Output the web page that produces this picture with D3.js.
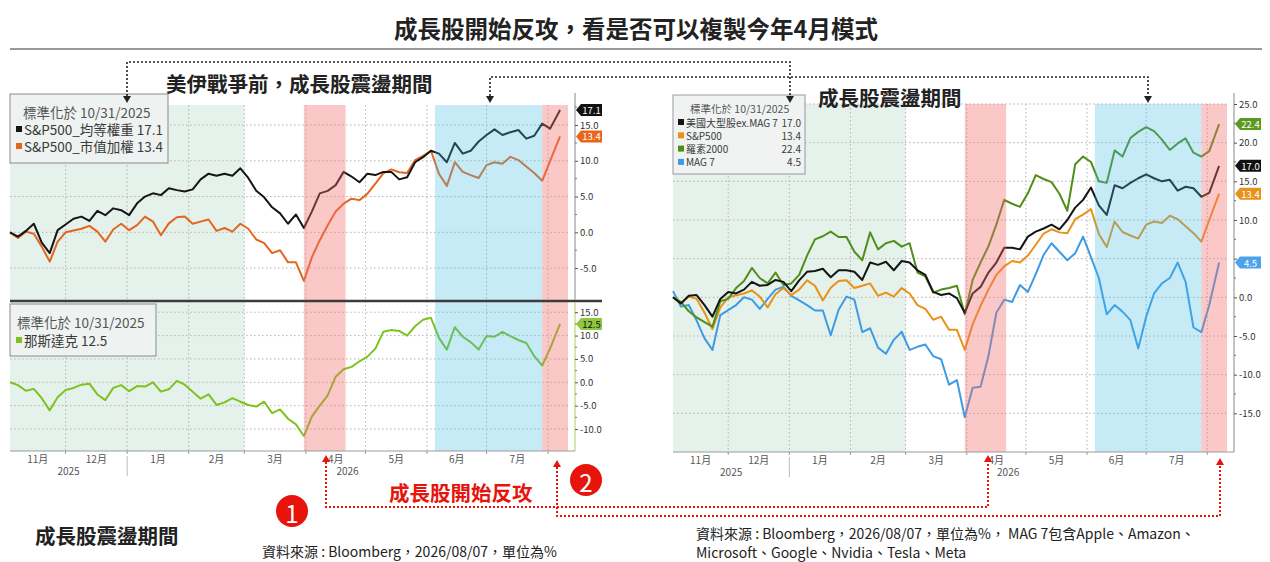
<!DOCTYPE html>
<html lang="zh-Hant">
<head>
<meta charset="UTF-8">
<title>成長股開始反攻</title>
<script src="https://d3js.org/d3.v7.min.js"></script>
<style>
    body { margin: 0; background: #fff; }
    svg text { font-family: "Noto Sans CJK TC", "Noto Sans", sans-serif; }
</style>
</head>
<body>
<svg id="main" width="1270" height="562" viewBox="0 0 1270 562"></svg>
<script>
    // x categories (normalised to 10/31/2025)
    let dates = ["2025-11-03","2025-11-07","2025-11-11","2025-11-15","2025-11-19","2025-11-23","2025-11-27",
        "2025-12-01","2025-12-05","2025-12-09","2025-12-13","2025-12-17","2025-12-21","2025-12-25","2025-12-29",
        "2026-01-02","2026-01-06","2026-01-10","2026-01-14","2026-01-18","2026-01-22","2026-01-26","2026-01-30",
        "2026-02-03","2026-02-07","2026-02-11","2026-02-15","2026-02-19","2026-02-23","2026-02-27",
        "2026-03-03","2026-03-07","2026-03-11","2026-03-15","2026-03-19","2026-03-23","2026-03-27","2026-03-31",
        "2026-04-04","2026-04-08","2026-04-12","2026-04-16","2026-04-20","2026-04-24","2026-04-28",
        "2026-05-02","2026-05-06","2026-05-10","2026-05-14","2026-05-18","2026-05-22","2026-05-26","2026-05-30",
        "2026-06-03","2026-06-07","2026-06-11","2026-06-15","2026-06-19","2026-06-23","2026-06-27",
        "2026-07-01","2026-07-05","2026-07-09","2026-07-13","2026-07-17","2026-07-21","2026-07-25","2026-07-29",
        "2026-08-02","2026-08-07"];

    // series, % change
    let spEqualWeight = [0, -0.6, 0.2, 1.2, -1.45, -2.9, 0.3, 1.1, 1.9, 2.2, 1.6, 3.0, 2.4, 3.35, 3.1, 2.4, 4.05, 5.0, 5.45, 5.2,
        6.15, 5.9, 5.7, 6.0, 7.4, 8.2, 7.9, 8.2, 7.9, 8.95, 7.6, 5.8, 4.9, 3.5, 2.65, 1.2, 2.5, 0.6, 2.9, 5.45,
        5.8, 6.6, 8.45, 7.8, 7.0, 8.2, 8.0, 8.45, 8.45, 7.4, 7.7, 9.8, 10.5, 11.4, 11.0, 9.8, 12.5, 11.0, 11.4, 12.7,
        13.6, 14.4, 13.6, 14.0, 14.3, 13.1, 13.5, 15.2, 14.5, 17.1];
    let sp500 = [0, -0.8, 0.1, -0.2, -2.0, -4.1, -1.3, 0.0, 0.25, 0.5, 0.9, 0.1, -1.3, 0.4, 1.2, 0.3, 1.0, 2.2, 1.5, -0.4,
        1.25, 2.1, 2.2, 1.2, 1.5, 1.8, 0.2, 0.6, 0.1, 1.2, 0.5, -1.0, -1.5, -2.9, -2.5, -4.2, -4.2, -6.8, -3.5, -1.1,
        1.0, 2.9, 4.0, 4.7, 4.5, 5.4, 6.8, 8.25, 8.8, 8.4, 8.3, 10.1, 10.7, 11.4, 8.2, 6.5, 9.8, 8.45, 8.0, 7.6,
        9.4, 9.8, 9.6, 10.55, 10.1, 9.2, 8.3, 7.2, 10.0, 13.4];
    let nasdaq = [0, -0.6, -1.8, -1.4, -3.4, -6.0, -3.2, -1.65, -1.2, -0.5, -0.3, -2.6, -3.8, -1.2, -0.6, -1.9, -0.8, -0.9, 0.0, -2.0,
        -1.5, 0.3, -0.5, -2.0, -3.5, -2.6, -4.85, -4.3, -3.4, -4.15, -4.85, -5.2, -4.15, -6.6, -5.8, -7.8, -9.0, -11.5, -7.35, -5.0,
        -2.8, 1.2, 2.8, 3.3, 4.5, 5.5, 7.2, 10.8, 11.2, 11.0, 10.0, 12.0, 13.4, 13.8, 9.5, 7.0, 11.8, 9.75, 8.6, 7.0,
        9.9, 9.75, 10.8, 9.9, 9.05, 8.4, 5.6, 3.6, 7.25, 12.5];
    let largeExMag7 = [0, -0.8, 0.2, 0.3, -1.0, -2.5, -0.2, 0.7, 0.5, 1.0, 2.0, 1.5, 1.6, 2.25, 2.0, 0.8, 2.2, 3.3, 3.4, 3.7,
        2.6, 3.5, 3.5, 3.3, 2.25, 4.5, 4.2, 4.6, 3.5, 4.7, 4.5, 3.5, 2.9, 0.7, 0.3, 0.5, -0.1, -2.0, 0.5, 1.35,
        3.2, 4.5, 6.4, 6.4, 6.2, 7.85, 8.5, 8.9, 9.4, 8.8, 10.0, 11.6, 12.6, 14.2, 11.9, 10.65, 14.5, 14.1, 14.8, 15.4,
        15.9, 15.4, 15.0, 15.2, 13.8, 14.3, 14.1, 13.0, 13.5, 17.0];
    let russell2000 = [0, -0.6, -1.8, -2.6, -3.2, -3.8, -0.5, -0.2, 1.2, 2.1, 3.8, 2.5, 1.8, 3.2, 1.6, 1.8, 2.9, 5.4, 7.5, 7.9,
        8.5, 7.8, 7.8, 5.9, 4.8, 8.4, 6.2, 7.0, 7.3, 6.55, 7.0, 3.2, 2.7, 0.6, 1.0, 1.2, 1.5, -2.2, 2.25, 4.5,
        6.6, 9.4, 12.6, 12.1, 11.7, 13.45, 15.8, 15.3, 14.9, 13.4, 11.2, 17.2, 18.2, 17.5, 15.0, 14.8, 19.0, 18.2, 20.6, 21.4,
        22.0, 21.5, 20.4, 19.05, 19.9, 20.55, 18.7, 18.2, 18.9, 22.4];
    let mag7 = [0.8, -1.2, -1.0, -3.0, -5.3, -6.8, -2.3, -1.65, -1.0, 0.0, -0.3, -1.5, -0.2, 1.0, 1.35, 0.2, -0.4, -1.0, -1.7, -1.7,
        -4.9, -1.6, 0.1, -0.3, -4.5, -4.0, -6.5, -7.3, -5.5, -4.45, -6.8, -6.4, -6.1, -7.6, -8.0, -11.3, -10.7, -15.5, -11.7, -11.55,
        -7.6, -2.0, -0.3, -0.6, 1.6, 0.7, 3.0, 5.5, 7.0, 5.9, 4.8, 5.7, 7.85, 5.2, 2.5, -2.2, -1.0, -1.85, -2.95, -6.6,
        -2.5, 0.5, 1.8, 2.5, 4.5, 2.0, -3.9, -4.5, -1.0, 4.5];

    // shaded periods
    let mintPeriod = ["2025-11-03", "2026-03-01"];
    let pinkPeriods = [["2026-03-31", "2026-04-21"], ["2026-07-29", "2026-08-11"]];
    let bluePeriod = ["2026-06-05", "2026-07-29"];

    // tick labels
    let monthLabels = ["11月", "12月", "1月", "2月", "3月", "4月", "5月", "6月", "7月"];
    let yearLabels = ["2025", "2026"];
    let topTicks = [-5, 0, 5, 10, 15];
    let bottomTicks = [-10, -5, 0, 5, 10, 15];
    let rightTicks = [-15, -10, -5, 0, 5, 10, 15, 20, 25];

    let svg = d3.select('svg#main');
    let parse = d3.timeParse('%Y-%m-%d');
    let dts = dates.map(parse);
    let dom = [parse('2025-11-03'), parse('2026-08-11')];
    let fmt = d3.format('.1f');
    let last = function (a) { return a[a.length - 1]; };

    let xL = d3.scaleTime().domain(dom).range([10, 568]);
    let yTop = d3.scaleLinear().domain([-9.6, 17.8]).range([301, 105]);
    let yBot = d3.scaleLinear().domain([-14.7, 17.4]).range([451, 301]);
    let xR = d3.scaleTime().domain(dom).range([673, 1227]);
    let yR = d3.scaleLinear().domain([-20, 25]).range([452, 104]);

    function drawBands(g, x, y0, y1, periods, color) {
        g.selectAll(null).data(periods).enter().append('rect')
            .attr('x', function (d) { return x(parse(d[0])); })
            .attr('width', function (d) { return x(parse(d[1])) - x(parse(d[0])); })
            .attr('y', y0).attr('height', y1 - y0)
            .style('fill', color);
    }

    function drawHGrid(g, x, y, ticks) {
        g.selectAll(null).data(ticks).enter().append('line')
            .attr('x1', x.range()[0]).attr('x2', x.range()[1])
            .attr('y1', function (d) { return y(d); }).attr('y2', function (d) { return y(d); })
            .style('stroke', '#b3b3b3').style('stroke-dasharray', '1.5,2.5');
    }

    function drawVGrid(g, x, y0, y1) {
        let months = d3.timeMonth.range(dom[0], dom[1]);
        g.selectAll(null).data(months).enter().append('line')
            .attr('x1', function (d) { return x(d); }).attr('x2', function (d) { return x(d); })
            .attr('y1', y0).attr('y2', y1)
            .style('stroke', '#b3b3b3').style('stroke-dasharray', '1.5,2.5');
    }

    function drawLine(g, x, y, values, color) {
        let line = d3.line()
            .x(function (d, i) { return x(dts[i]); })
            .y(function (d) { return y(d); });
        g.append('path').datum(values).attr('d', line)
            .style('fill', 'none').style('stroke', color)
            .style('stroke-width', '2px').style('stroke-linejoin', 'round');
    }

    function drawXAxis(g, x, yAx, xEnd) {
        g.append('line').attr('x1', x.range()[0]).attr('x2', xEnd).attr('y1', yAx).attr('y2', yAx)
            .style('stroke', '#9a9a9a');
        let months = d3.timeMonth.range(dom[0], dom[1]);
        g.selectAll(null).data(months).enter().append('line')
            .attr('x1', function (d) { return x(d); }).attr('x2', function (d) { return x(d); })
            .attr('y1', yAx).attr('y2', yAx + 3).style('stroke', '#999');
        let starts = [dom[0]].concat(months);
        monthLabels.forEach(function (m, i) {
            g.append('text').attr('x', (x(starts[i]) + x(starts[i + 1])) / 2).attr('y', yAx + 12)
                .attr('text-anchor', 'middle').style('font-size', '10px').style('fill', '#555').text(m);
        });
        let jan = parse('2026-01-01');
        let yearX = [(x(dom[0]) + x(jan)) / 2, (x(jan) + x(dom[1])) / 2];
        yearLabels.forEach(function (t, i) {
            g.append('text').attr('x', yearX[i]).attr('y', yAx + 24)
                .attr('text-anchor', 'middle').style('font-size', '10px').style('fill', '#555').text(t);
        });
        g.append('line').attr('x1', x(jan)).attr('x2', x(jan)).attr('y1', yAx + 5).attr('y2', yAx + 25)
            .style('stroke', '#bbb');
    }

    // tick labels hidden where a value tag sits on them
    function drawYAxis(g, y, xPos, ticks, tagYs) {
        let shown = ticks.filter(function (t) {
            return tagYs.every(function (ty) { return Math.abs(y(t) - ty) > 8; });
        });
        let ax = g.append('g').attr('transform', 'translate(' + xPos + ',0)')
            .call(d3.axisRight(y).tickValues(ticks).tickSize(3).tickPadding(2)
                .tickFormat(function (d) { return shown.indexOf(d) >= 0 ? d.toFixed(1) : ''; }));
        ax.select('.domain').remove();
        ax.selectAll('text').style('font-size', '9.5px').style('fill', '#333');
        ax.selectAll('line').style('stroke', '#555');
        // minor ticks
        let minor = ticks.map(function (d) { return d + 2.5; }).filter(function (d) {
            return d > y.domain()[0] && d < y.domain()[1];
        });
        g.selectAll(null).data(minor).enter().append('line')
            .attr('x1', xPos).attr('x2', xPos + 2)
            .attr('y1', function (d) { return y(d); }).attr('y2', function (d) { return y(d); })
            .style('stroke', '#777');
    }

    function tag(g, x, y, txt, fill, color) {
        let w = 26, h = 12;
        g.append('path')
            .attr('d', 'M' + x + ',' + y + ' L' + (x + 5) + ',' + (y - h / 2) + ' L' + (x + w) + ',' + (y - h / 2) +
                ' L' + (x + w) + ',' + (y + h / 2) + ' L' + (x + 5) + ',' + (y + h / 2) + ' Z')
            .style('fill', fill);
        g.append('text').attr('x', x + 15.5).attr('y', y).attr('text-anchor', 'middle')
            .attr('dominant-baseline', 'central').style('font-size', '9.5px').style('fill', color).text(txt);
    }

    function legendRow(g, x, y, color, label, size) {
        g.append('rect').attr('x', x).attr('y', y - 3).attr('width', 6).attr('height', 6).style('fill', color);
        g.append('text').attr('x', x + 8).attr('y', y).attr('dominant-baseline', 'central')
            .style('font-size', size).style('fill', '#3a3a3a').text(label);
    }

    // title
    svg.append('text').attr('x', 636).attr('y', 28).attr('text-anchor', 'middle').attr('dominant-baseline', 'central')
        .style('font-size', '23.5px').style('font-weight', 'bold').style('fill', '#222')
        .text('成長股開始反攻，看是否可以複製今年4月模式');
    svg.append('line').attr('x1', 10).attr('x2', 1262).attr('y1', 49).attr('y2', 49).style('stroke', '#333');

    // ---- left chart ----
    let left = svg.append('g');
    drawBands(left, xL, 105, 451, [mintPeriod], '#e5f1eb');
    drawHGrid(left, xL, yTop, topTicks);
    drawHGrid(left, xL, yBot, bottomTicks);
    drawVGrid(left, xL, 105, 451);
    drawLine(left, xL, yTop, sp500, '#e4661e');
    drawLine(left, xL, yTop, spEqualWeight, '#151515');
    drawLine(left, xL, yBot, nasdaq, '#7dc31f');
    drawBands(left, xL, 105, 451, pinkPeriods, 'rgba(245,110,110,0.38)');
    drawBands(left, xL, 105, 451, [bluePeriod], 'rgba(70,185,230,0.3)');
    left.append('line').attr('x1', 10).attr('x2', 602).attr('y1', 301).attr('y2', 301)
        .style('stroke', '#3c3c3c').style('stroke-width', 2.5);
    drawXAxis(left, xL, 451, 575);
    left.append('line').attr('x1', 575).attr('x2', 575).attr('y1', 93).attr('y2', 300).style('stroke', '#888');
    left.append('line').attr('x1', 575).attr('x2', 575).attr('y1', 302).attr('y2', 451).style('stroke', '#a9d05c');
    let leftTopTags = [yTop(last(spEqualWeight)), yTop(last(sp500))];
    let leftBotTags = [yBot(last(nasdaq))];
    drawYAxis(left, yTop, 575, topTicks, leftTopTags);
    drawYAxis(left, yBot, 575, bottomTicks, leftBotTags);
    tag(left, 576, leftTopTags[0], fmt(last(spEqualWeight)), '#111', '#fff');
    tag(left, 576, leftTopTags[1], fmt(last(sp500)), '#e8661c', '#fff');
    tag(left, 576, leftBotTags[0], fmt(last(nasdaq)), '#8dc63f', '#111');

    left.append('rect').attr('x', 10).attr('y', 94).attr('width', 158).attr('height', 69)
        .style('fill', '#eef2f0').style('stroke', '#8c8c8c');
    left.append('text').attr('x', 23).attr('y', 112).attr('dominant-baseline', 'central')
        .style('font-size', '13.5px').style('fill', '#555').text('標準化於 10/31/2025');
    legendRow(left, 16, 129, '#151515', 'S&P500_均等權重 ' + fmt(last(spEqualWeight)), '13.5px');
    legendRow(left, 16, 146, '#e4661e', 'S&P500_市值加權 ' + fmt(last(sp500)), '13.5px');

    left.append('rect').attr('x', 10).attr('y', 304).attr('width', 146).attr('height', 52)
        .style('fill', '#eef2f0').style('stroke', '#8c8c8c');
    left.append('text').attr('x', 17).attr('y', 322).attr('dominant-baseline', 'central')
        .style('font-size', '13.5px').style('fill', '#555').text('標準化於 10/31/2025');
    legendRow(left, 16, 340, '#7dc31f', '那斯達克 ' + fmt(last(nasdaq)), '13.5px');

    // ---- right chart ----
    let right = svg.append('g');
    drawBands(right, xR, 104, 452, [mintPeriod], '#e5f1eb');
    drawHGrid(right, xR, yR, rightTicks);
    drawVGrid(right, xR, 104, 452);
    drawLine(right, xR, yR, mag7, '#3d9be6');
    drawLine(right, xR, yR, sp500, '#e89219');
    drawLine(right, xR, yR, russell2000, '#4f8f18');
    drawLine(right, xR, yR, largeExMag7, '#151515');
    drawBands(right, xR, 104, 452, pinkPeriods, 'rgba(245,110,110,0.38)');
    drawBands(right, xR, 104, 452, [bluePeriod], 'rgba(70,185,230,0.3)');
    drawXAxis(right, xR, 452, 1234);
    right.append('line').attr('x1', 1234).attr('x2', 1234).attr('y1', 93).attr('y2', 452).style('stroke', '#888');
    let rightTags = [yR(last(russell2000)), yR(last(largeExMag7)), yR(last(sp500)), yR(last(mag7))];
    drawYAxis(right, yR, 1234, rightTicks, rightTags);
    tag(right, 1235, rightTags[0], fmt(last(russell2000)), '#5b9a1e', '#fff');
    tag(right, 1235, rightTags[1], fmt(last(largeExMag7)), '#111', '#fff');
    tag(right, 1235, rightTags[2], fmt(last(sp500)), '#e8921a', '#fff');
    tag(right, 1235, rightTags[3], fmt(last(mag7)), '#4ba3ea', '#fff');

    right.append('rect').attr('x', 673).attr('y', 95).attr('width', 132).attr('height', 79)
        .style('fill', '#f0f3f2').style('stroke', '#999');
    right.append('text').attr('x', 690).attr('y', 108).attr('dominant-baseline', 'central')
        .style('font-size', '10.5px').style('fill', '#555').text('標準化於 10/31/2025');
    let rightLegend = [['美國大型股ex.MAG 7', largeExMag7, '#151515'], ['S&P500', sp500, '#e89219'],
        ['羅素2000', russell2000, '#4f8f18'], ['MAG 7', mag7, '#3d9be6']];
    rightLegend.forEach(function (d, i) {
        let yy = 122 + i * 13.3;
        legendRow(right, 678, yy, d[2], d[0], '10px');
        right.append('text').attr('x', 801).attr('y', yy).attr('text-anchor', 'end').attr('dominant-baseline', 'central')
            .style('font-size', '10px').style('fill', '#3a3a3a').text(fmt(last(d[1])));
    });

    // ---- annotations ----
    let ann = svg.append('g');
    function arrowDown(x, y, color) {
        ann.append('path').attr('d', 'M' + (x - 4) + ',' + (y - 7) + ' L' + (x + 4) + ',' + (y - 7) + ' L' + x + ',' + y + ' Z')
            .style('fill', color);
    }
    function arrowUp(x, y, color) {
        ann.append('path').attr('d', 'M' + (x - 4) + ',' + (y + 7) + ' L' + (x + 4) + ',' + (y + 7) + ' L' + x + ',' + y + ' Z')
            .style('fill', color);
    }
    function dotted(d, color, w) {
        ann.append('path').attr('d', d).style('fill', 'none').style('stroke', color)
            .style('stroke-width', w).style('stroke-dasharray', '2,2');
    }
    dotted('M127,96 V62 H790 V96', '#222', 1.6);
    arrowDown(127, 103, '#222');
    arrowDown(790, 103, '#222');
    dotted('M490,96 V77 H1148 V96', '#222', 1.6);
    arrowDown(490, 103, '#222');
    arrowDown(1148, 103, '#222');

    dotted('M326,462 V507 H988 V462', '#e8140c', 2);
    arrowUp(326, 455, '#e8140c');
    arrowUp(988, 455, '#e8140c');
    dotted('M557,467 V516 H1220 V465', '#e8140c', 2);
    arrowUp(557, 460, '#e8140c');
    arrowUp(1220, 458, '#e8140c');

    let notes = [['美伊戰爭前，成長股震盪期間', 166, 83, '#222'], ['成長股震盪期間', 818, 97, '#222'],
        ['成長股開始反攻', 389, 492, '#e8140c'], ['成長股震盪期間', 35, 535, '#222']];
    notes.forEach(function (n) {
        ann.append('text').attr('x', n[1]).attr('y', n[2]).attr('dominant-baseline', 'central')
            .style('font-size', '20.5px').style('font-weight', 'bold').style('fill', n[3]).text(n[0]);
    });

    [['1', 292, 511], ['2', 586, 480]].forEach(function (c) {
        ann.append('circle').attr('cx', c[1]).attr('cy', c[2]).attr('r', 16).style('fill', '#e8140c');
        ann.append('text').attr('x', c[1]).attr('y', c[2] + 1).attr('text-anchor', 'middle')
            .attr('dominant-baseline', 'central').style('font-size', '24px').style('fill', '#fff').text(c[0]);
    });

    // sources
    ann.append('text').attr('x', 262).attr('y', 551).attr('dominant-baseline', 'central')
        .style('font-size', '14px').style('fill', '#222').text('資料來源 : Bloomberg，2026/08/07，單位為%');
    ann.append('text').attr('x', 696).attr('y', 533).attr('dominant-baseline', 'central')
        .style('font-size', '14px').style('fill', '#222')
        .text('資料來源 : Bloomberg，2026/08/07，單位為%， MAG 7包含Apple、Amazon、');
    ann.append('text').attr('x', 696).attr('y', 552).attr('dominant-baseline', 'central')
        .style('font-size', '14px').style('fill', '#222').text('Microsoft、Google、Nvidia、Tesla、Meta');
</script>
</body>
</html>
